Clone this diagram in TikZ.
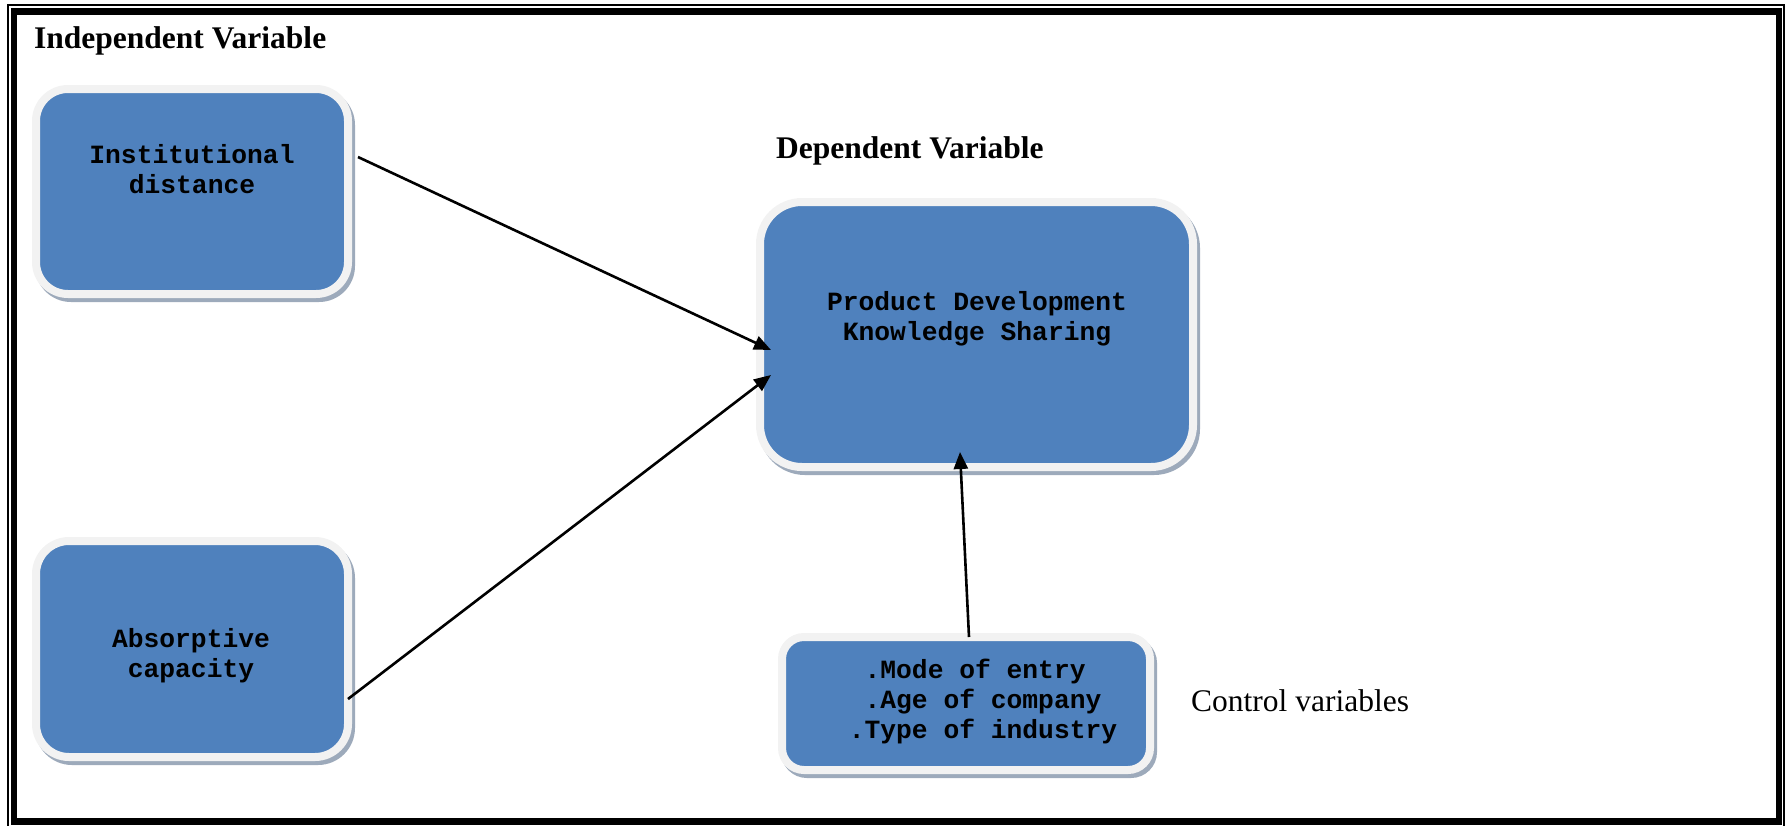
\documentclass[tikz,border=0pt]{standalone}
\usepackage{fontspec}
\setmainfont{Liberation Serif}
\setmonofont{Liberation Mono}
\usetikzlibrary{arrows.meta}
\definecolor{boxblue}{HTML}{4F81BD}
\definecolor{boxrim}{HTML}{F2F2F2}
\definecolor{boxshade}{HTML}{9DAABB}
\tikzset{
  varbox/.style={rectangle, rounded corners=#1, fill=boxblue, draw=boxrim,
    line width=8pt, inner sep=0pt, outer sep=0pt,
    preaction={draw=boxshade, fill=boxshade, line width=8pt,
      transform canvas={shift={(3,4)}}}},
  monotext/.style={font=\ttfamily\bfseries\fontsize{26.3pt}{30pt}\selectfont,
    inner sep=0pt, anchor=base},
  heading/.style={font=\bfseries\fontsize{31.5pt}{36pt}\selectfont,
    inner sep=0pt, anchor=base west},
  sidelabel/.style={font=\fontsize{31.5pt}{36pt}\selectfont,
    inner sep=0pt, anchor=base west},
  conn/.style={line width=2.6pt, -{Triangle[length=17pt,width=14pt]}},
}
\begin{document}
\begin{tikzpicture}[x=1pt,y=-1pt]
\useasboundingbox (0,0) rectangle (1787,825);
% double page frame
\draw[line width=2pt] (8,5) rectangle (1784,829);
\draw[line width=6.5pt] (14,11.5) rectangle (1779,821.5);

% headings
\node[heading] (indep) at (34,48) {Independent Variable};
\node[heading] (dep) at (776,158) {Dependent Variable};
\node[sidelabel] (ctrllabel) at (1191,711) {Control variables};

% variable boxes
\node[varbox=32, minimum width=312pt, minimum height=205pt] (inst) at (192,191.5) {};
\node[varbox=33, minimum width=312pt, minimum height=216pt] (absorp) at (192,649) {};
\node[varbox=42, minimum width=433pt, minimum height=265pt] (prod) at (976.5,334.5) {};
\node[varbox=22, minimum width=368pt, minimum height=133pt] (ctrl) at (966,703.5) {};

% box texts
\node[monotext] (instT) at (192,163) {\begin{tabular}[t]{@{}c@{}}Institutional\\distance\end{tabular}};
\node[monotext] (absorpT) at (191,647) {\begin{tabular}[t]{@{}c@{}}Absorptive\\capacity\end{tabular}};
\node[monotext] (prodT) at (977,310) {\begin{tabular}[t]{@{}c@{}}Product Development\\Knowledge Sharing\end{tabular}};
\node[monotext] (ctrlT) at (983,678) {\begin{tabular}[t]{@{}c@{}}.Mode of entry\hphantom{x}\\.Age of company\\.Type of industry\end{tabular}};

% relations
\draw[conn] ([shift={(10,-34.5)}]inst.east) -- ([shift={(11,15.5)}]prod.west);
\draw[conn] ([shift={(0,50)}]absorp.east) -- ([shift={(11,40.5)}]prod.west);
\draw[conn] ([shift={(3,0)}]ctrl.north) -- ([shift={(-16.5,-15)}]prod.south);
\end{tikzpicture}
\end{document}
